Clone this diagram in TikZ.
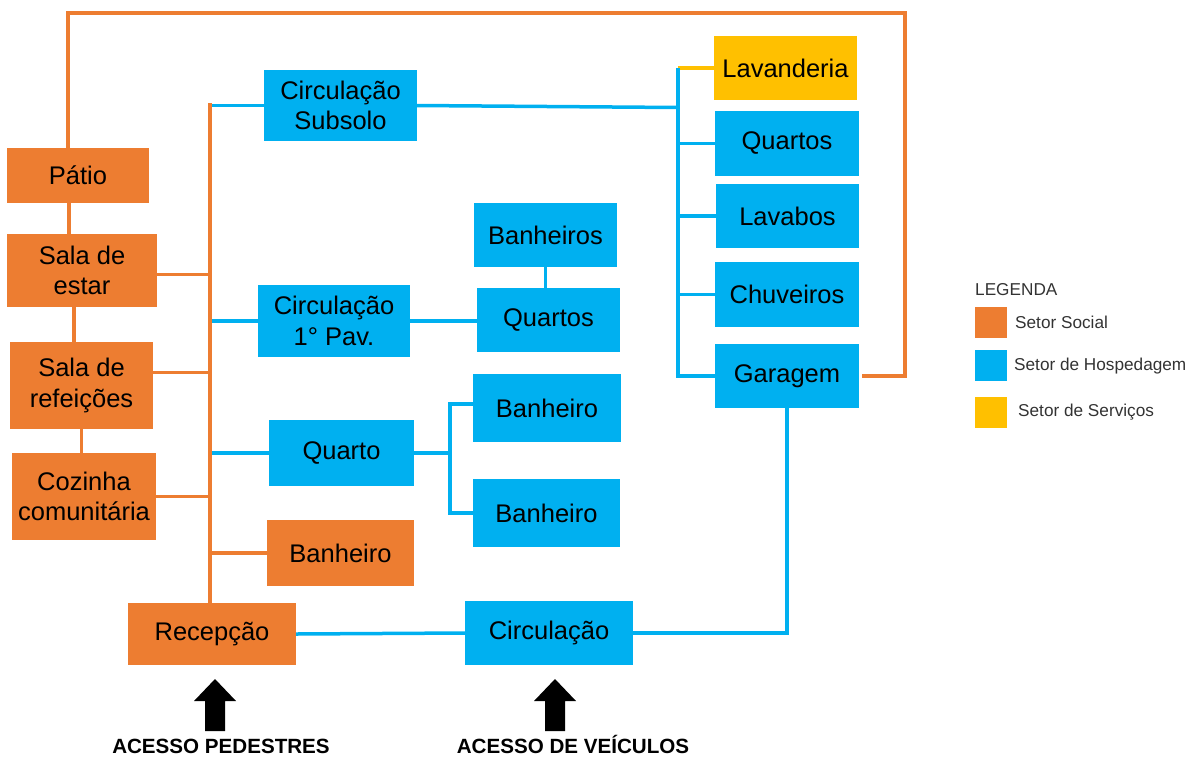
\documentclass[tikz,border=0pt]{standalone}
\usepackage{fontspec}
\setmainfont{Liberation Sans}
\definecolor{orng}{HTML}{ED7D31}
\definecolor{blu}{HTML}{00B0F0}
\definecolor{ylw}{HTML}{FFC000}
\definecolor{legtxt}{HTML}{333333}
\tikzset{
  box/.style={rectangle, inner sep=0pt, align=center, font=\fontsize{25.5}{30.5}\selectfont},
  obox/.style={box, fill=orng},
  bbox/.style={box, fill=blu},
  ybox/.style={box, fill=ylw},
  oline/.style={draw=orng, line width=3.5pt},
  bline/.style={draw=blu, line width=3.5pt},
  yline/.style={draw=ylw, line width=3.5pt},
  legsq/.style={rectangle, inner sep=0pt, minimum width=32, minimum height=31},
  legtext/.style={anchor=west, inner sep=0pt, text=legtxt, font=\fontsize{17.2}{20}\selectfont},
  access/.style={anchor=base, inner sep=0pt, font=\bfseries\fontsize{20.6}{23}\selectfont},
  blockarrow/.style={fill=black}
}
\begin{document}
\begin{tikzpicture}[x=1pt,y=-1pt]
\useasboundingbox (0,0) rectangle (1189,756);

% left social column
\node[obox, minimum width=142, minimum height=55] (patio) at (78,175.5) {Pátio};
\node[obox, minimum width=150, minimum height=73] (estar) at (82,270.5) {Sala de\\estar};
\node[obox, minimum width=143, minimum height=87] (refeicoes) at (81.5,385.5) {Sala de\\refeições};
\node[obox, minimum width=144, minimum height=87] (cozinha) at (84,496.5) {Cozinha\\comunitária};

% middle column
\node[bbox, minimum width=153, minimum height=71] (sub) at (340.5,105.5) {Circulação\\Subsolo};
\node[bbox, minimum width=152, minimum height=72] (pav1) at (334,321) {Circulação\\1° Pav.};
\node[bbox, minimum width=145, minimum height=66] (quarto) at (341.5,453) {Quarto};
\node[obox, minimum width=147, minimum height=66] (banho) at (340.5,553) {Banheiro};
\node[obox, minimum width=168, minimum height=62] (rec) at (212,634) {Recepção};
\node[bbox, minimum width=168, minimum height=64] (circ) at (549,633) {Circulação};

\node[bbox, minimum width=143, minimum height=64] (banheiros) at (545.5,235) {Banheiros};
\node[bbox, minimum width=143, minimum height=64] (quartos2) at (548.5,320) {Quartos};
\node[bbox, minimum width=148, minimum height=68] (ban1) at (547,408) {Banheiro};
\node[bbox, minimum width=147, minimum height=68] (ban2) at (546.5,513) {Banheiro};

% right column
\node[ybox, minimum width=143, minimum height=64] (lav) at (785.5,68) {Lavanderia};
\node[bbox, minimum width=144, minimum height=65] (quartosR) at (787,143.5) {Quartos};
\node[bbox, minimum width=143, minimum height=64] (lavabos) at (787.5,216) {Lavabos};
\node[bbox, minimum width=144, minimum height=65] (chuv) at (787,294.5) {Chuveiros};
\node[bbox, minimum width=144, minimum height=64] (gar) at (787,376) {Garagem};

% junction coordinates
\coordinate (tl) at (68,13);
\coordinate (tr) at (905,13);
\coordinate (trT) at (210,103);
\coordinate (qj) at (450,0);
\coordinate (rj) at (678,0);

% outer orange loop
\draw[oline] ([xshift=-10]patio.north) -- ([xshift=-10]patio.north |- tl) -- (tr) -- (tr |- gar.east) -- ([xshift=3]gar.east);

% left column links
\draw[oline] ([xshift=-9]patio.south) -- ([xshift=-9]patio.south |- estar.north);
\draw[oline] ([xshift=-8]estar.south) -- ([xshift=-8]estar.south |- refeicoes.north);
\draw[oline] (refeicoes.south) -- (refeicoes.south |- cozinha.north);

% orange trunk and branches
\draw[oline] (trT) -- (trT |- rec.north);
\draw[oline] ([yshift=-4]estar.east) -- ([yshift=-4]estar.east -| trT);
\draw[oline] ([yshift=13]refeicoes.east) -- ([yshift=13]refeicoes.east -| trT);
\draw[oline] (cozinha.east) -- (cozinha.east -| trT);
\draw[oline] (banho.west) -- (banho.west -| trT);

% blue branches from trunk
\draw[bline] (sub.west) -- ([xshift=2]sub.west -| trT);
\draw[bline] (pav1.west) -- ([xshift=2]pav1.west -| trT);
\draw[bline] (quarto.west) -- ([xshift=2]quarto.west -| trT);

% middle links
\draw[bline] (pav1.east) -- (pav1.east -| quartos2.west);
\draw[bline] (banheiros.south) -- (banheiros.south |- quartos2.north);
\draw[bline] (quarto.east) -- (quarto.east -| qj);
\draw[bline] ([yshift=4]ban1.west) -- ([yshift=4]ban1.west -| qj) -- (ban2.west -| qj) -- (ban2.west);

% right column links
\draw[yline] (lav.west) -- (lav.west -| rj);
\draw[bline] (rj |- lav.west) -- (rj |- gar.west) -- (gar.west);
\draw[bline] (sub.east) -- ([yshift=-2]sub.east -| rj);
\draw[bline] (quartosR.west) -- (quartosR.west -| rj);
\draw[bline] (lavabos.west) -- (lavabos.west -| rj);
\draw[bline] (chuv.west) -- (chuv.west -| rj);

% bottom links
\draw[bline] (gar.south) -- (gar.south |- circ.east) -- (circ.east);
\draw[bline] (rec.east) -- (circ.west);

% access arrows
\fill[blockarrow] (215,679) -- (236,701) -- (225,701) -- (225,731) -- (205,731) -- (205,701) -- (194,701) -- cycle;
\fill[blockarrow] (555,679) -- (576,701) -- (565,701) -- (565,731) -- (545,731) -- (545,701) -- (534,701) -- cycle;
\node[access] (ped) at (221,753) {ACESSO PEDESTRES};
\node[access] (vei) at (573,753) {ACESSO DE VEÍCULOS};

% legend
\node[legtext] (legt) at (975,290) {LEGENDA};
\node[legsq, fill=orng] (lsq1) at (991,322.5) {};
\node[legsq, fill=blu] (lsq2) at (991,365.5) {};
\node[legsq, fill=ylw] (lsq3) at (991,412.5) {};
\node[legtext] (lt1) at (1015,322) {Setor Social};
\node[legtext] (lt2) at (1014,366) {Setor de Hospedagem};
\node[legtext] (lt3) at (1018,412) {Setor de Serviços};
\end{tikzpicture}
\end{document}
